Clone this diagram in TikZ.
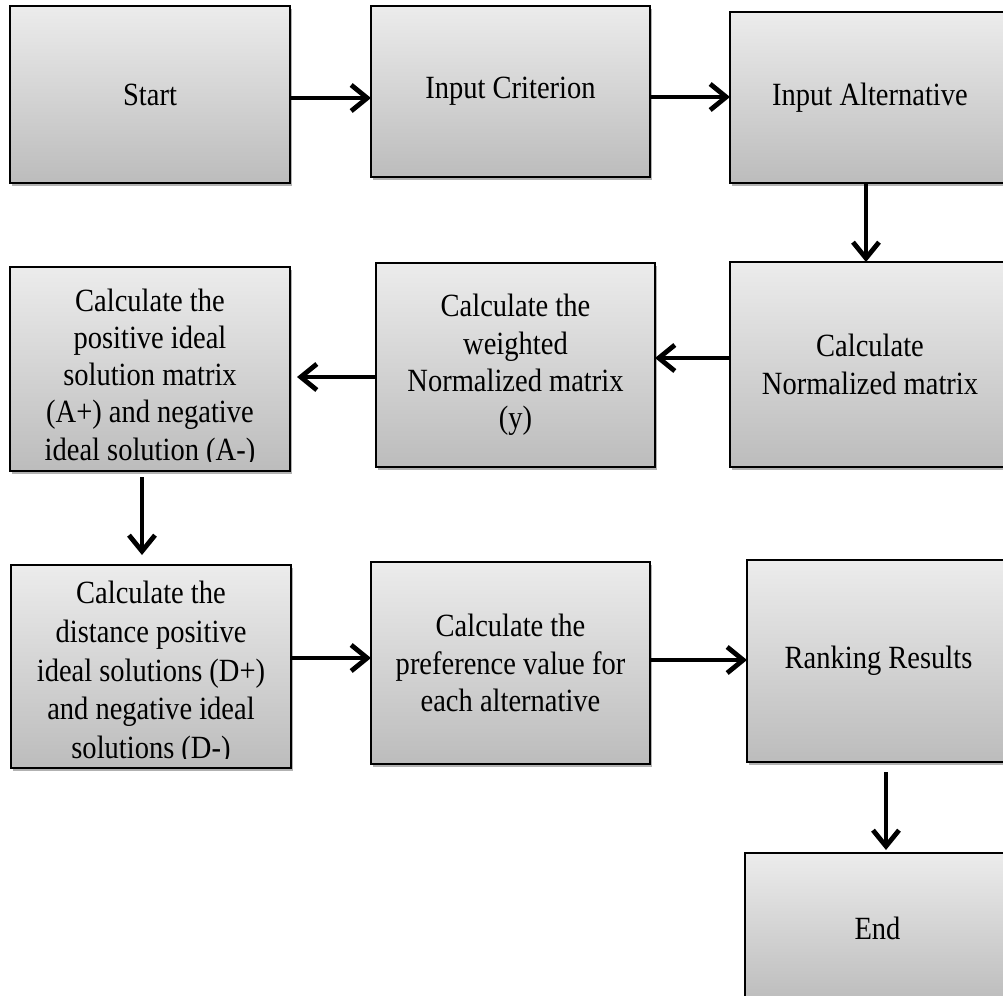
\documentclass[tikz,border=0pt]{standalone}
\usepackage{fontspec}
\setmainfont{Liberation Serif}[FakeStretch=0.88]
\usetikzlibrary{arrows.meta,shadows}
\definecolor{boxtop}{RGB}{236,236,236}
\definecolor{boxbot}{RGB}{188,188,188}
\newcommand\boxfont{\fontsize{16.2}{18.6}\selectfont}
\newcommand\boxfontwide{\fontsize{16.2}{19.4}\selectfont}
\tikzset{
  box/.style={draw=black, line width=0.9pt, top color=boxtop, bottom color=boxbot,
    inner sep=0pt, outer sep=0pt, align=center, font=\boxfont,
    drop shadow={shadow xshift=1.2pt, shadow yshift=-1.6pt, opacity=0.3, fill=black}},
  arr/.style={line width=2.4pt, -{Straight Barb[length=8pt,width=13pt]}},
  cliptext/.style={align=center, font=\boxfont, inner sep=0pt}
}
\begin{document}
\begin{tikzpicture}[x=0.5pt,y=-0.5pt]
\useasboundingbox (0,0) rectangle (1003,996);
\clip (0,0) rectangle (1003,996);
% boxes
\node[box, minimum width=140pt, minimum height=88.5pt] (start) at (150,94.5) {\raisebox{-1.5pt}{Start}};
\node[box, minimum width=139.5pt, minimum height=85.5pt] (crit) at (510.5,91.5) {\raisebox{-1.5pt}{Input Criterion}};
\node[box, minimum width=140pt, minimum height=85.5pt] (alt) at (870,97.5) {Input Alternative};
\node[box, minimum width=140pt, minimum height=102.5pt] (norm) at (870,364.5) {Calculate\\Normalized matrix};
\node[box, minimum width=139.5pt, minimum height=102pt] (wnorm) at (515.5,365) {Calculate the\\weighted\\Normalized matrix\\(y)};
\node[box, minimum width=140pt, minimum height=102pt,
  path picture={\clip ([yshift=4.6pt]path picture bounding box.south west) rectangle (path picture bounding box.north east);
    \node[cliptext] at ([yshift=-4.5pt]path picture bounding box.center)
    {Calculate the\\positive ideal\\solution matrix\\(A+) and negative\\ideal solution (A-)};}] (ideal) at (150,369) {};
\node[box, minimum width=140pt, minimum height=101.5pt,
  path picture={\clip ([yshift=5pt]path picture bounding box.south west) rectangle (path picture bounding box.north east);
    \node[cliptext, font=\boxfontwide] at ([yshift=-3.4pt]path picture bounding box.center)
    {Calculate the\\distance positive\\ideal solutions (D+)\\and negative ideal\\solutions (D-)};}] (dist) at (151,666.5) {};
\node[box, minimum width=139.5pt, minimum height=101pt] (pref) at (510.5,663) {Calculate the\\preference value for\\each alternative};
\node[box, minimum width=131.5pt, minimum height=101pt] (rank) at (878.5,661) {Ranking Results};
\node[box, minimum width=132.5pt, minimum height=75pt] (endn) at (877.5,928) {End};
% connectors
\draw[arr] ([yshift=-1.75pt]start.east) -- ([yshift=-1.75pt]start.east -| crit.west);
\draw[arr] ([yshift=-2.75pt]crit.east) -- ([yshift=-2.75pt]crit.east -| alt.west);
\draw[arr] ([xshift=-2pt]alt.south) -- ([xshift=-2pt]alt.south |- norm.north);
\draw[arr] ([yshift=3.25pt]norm.west) -- ([yshift=3.25pt]norm.west -| wnorm.east);
\draw[arr, shorten >=3.5pt] ([yshift=-6pt]wnorm.west) -- ([yshift=-6pt]wnorm.west -| ideal.east);
\draw[arr, shorten <=3pt, shorten >=5pt] ([xshift=-4pt]ideal.south) -- ([xshift=-4pt]ideal.south |- dist.north);
\draw[arr] ([yshift=4.25pt]dist.east) -- ([yshift=4.25pt]dist.east -| pref.west);
\draw[arr] ([yshift=1.5pt]pref.east) -- ([yshift=1.5pt]pref.east -| rank.west);
\draw[arr, shorten <=5pt, shorten >=1.5pt] ([xshift=3.75pt]rank.south) -- ([xshift=3.75pt]rank.south |- endn.north);
\end{tikzpicture}
\end{document}
